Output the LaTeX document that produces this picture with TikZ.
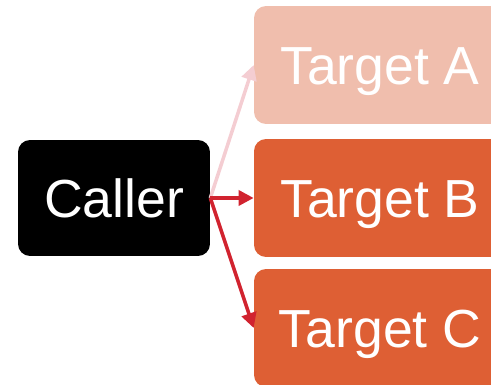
\documentclass[tikz,border=0pt]{standalone}
\usepackage{fontspec}
\setmainfont{Liberation Sans}
\usetikzlibrary{arrows.meta}
\definecolor{palesalmon}{HTML}{F0BEAD}
\definecolor{burnt}{HTML}{DE5F34}
\definecolor{palepink}{HTML}{F4CDD2}
\definecolor{callred}{HTML}{D1232F}

\begin{document}
\begin{tikzpicture}[x=0.02cm,y=-0.02cm,
  box/.style={rounded corners=0.24cm,text=white,
    font=\fontsize{30.5}{36}\selectfont,text height=21.8pt,text depth=0pt},
  target/.style={box,minimum width=5.04cm,minimum height=2.36cm},
  call/.style={line width=2pt,-{Triangle[length=0.3cm,width=0.3cm]}}]
\useasboundingbox (0,0) rectangle (491,385);
\clip (0,0) rectangle (491,385);
\node[box,fill=black,minimum width=3.84cm,minimum height=2.32cm] (caller) at (114,198) {Caller};
\node[target,fill=palesalmon] (a) at (380,65) {Target A};
\node[target,fill=burnt] (b) at (380,198) {Target B};
\node[target,fill=burnt] (c) at (380,328) {Target C};
% calls
\draw[call,palepink] (caller.east) -- (a.west);
\draw[call,callred] (caller.east) -- (b.west);
\draw[call,callred] (caller.east) -- (c.west);
\end{tikzpicture}
\end{document}
